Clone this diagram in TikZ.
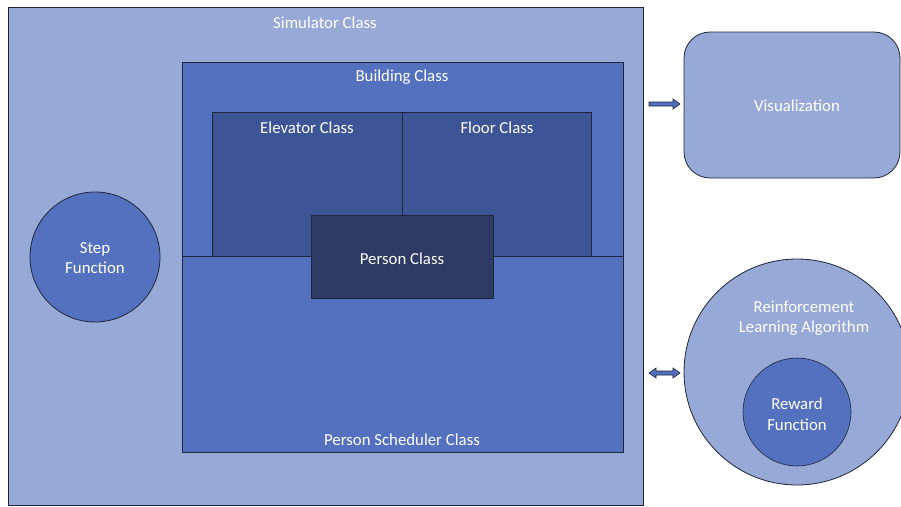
\documentclass[tikz,border=0pt]{standalone}
\usepackage{fontspec}
\setmainfont{Carlito}
\begin{document}
\begin{tikzpicture}[x=1pt,y=-1pt]
\definecolor{lightb}{HTML}{97A9D7}
\definecolor{midb}{HTML}{5471C0}
\definecolor{darkb}{HTML}{3D5596}
\definecolor{deepb}{HTML}{2E3A64}
\definecolor{edge}{HTML}{1F2638}
\tikzset{
  box/.style={draw=edge, line width=0.8pt},
  lbl/.style={text=white, font=\fontsize{16.8}{20.5}\selectfont, align=center, inner sep=0pt},
}
\useasboundingbox (0,0) rectangle (901,506);
\fill[white] (0,0) rectangle (901,506);
\clip (0,0) rectangle (901,506);
% simulator
\draw[box, fill=lightb] (8,7) rectangle (643,505);
\node[lbl] (simlbl) at (325,22.5) {Simulator Class};
% building
\draw[box, fill=midb] (182,62) rectangle (623,452);
\draw[box] (182,256) -- (623,256);
\node[lbl] (bldlbl) at (402,77.5) {Building Class};
\node[lbl] (schlbl) at (402,439.5) {Person Scheduler Class};
% elevator / floor
\draw[box, fill=darkb] (212,112) rectangle (402,256);
\draw[box, fill=darkb] (402,112) rectangle (591,256);
\node[lbl] (elvlbl) at (307,127.5) {Elevator Class};
\node[lbl] (flrlbl) at (497,127.5) {Floor Class};
% person
\draw[box, fill=deepb] (311,215) rectangle (493,298);
\node[lbl] (perlbl) at (402,258.5) {Person Class};
% step function
\draw[box, fill=midb] (95,257) circle (65);
\node[lbl] (steplbl) at (95,258) {Step\\Function};
% visualization
\draw[box, fill=lightb, rounded corners=26pt] (684,32) rectangle (900,178);
\node[lbl] (vislbl) at (797,106) {Visualization};
% RL
\draw[box, fill=lightb] (797,372) circle (113);
\node[lbl] (rllbl) at (804,318) {Reinforcement\\Learning Algorithm};
\draw[box, line width=0.6pt, fill=midb] (797,412) circle (54);
\node[lbl] (rwlbl) at (797,414) {Reward\\Function};
% arrows
\draw[box, line width=0.6pt, fill=midb] (649,102) -- (673,102) -- (673,99) -- (680,104) -- (673,109) -- (673,106) -- (649,106) -- cycle;
\draw[box, line width=0.6pt, fill=midb] (649,373) -- (656,368) -- (656,371) -- (673,371) -- (673,368) -- (680,373) -- (673,378) -- (673,375) -- (656,375) -- (656,378) -- cycle;
\end{tikzpicture}
\end{document}
